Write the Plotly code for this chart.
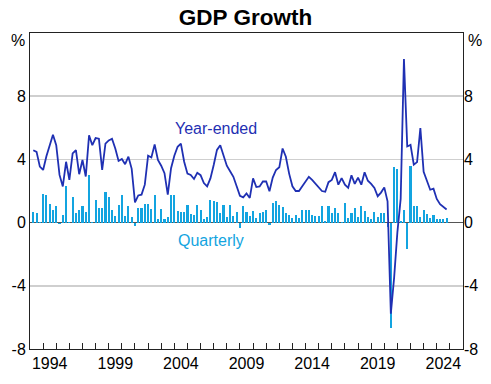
import plotly.graph_objects as go

# Quarterly data from 1993 Q1 to 2024 Q3
start_year = 1993
n_quarters = 127
quarters = [f"{start_year + i // 4}-Q{i % 4 + 1}" for i in range(n_quarters)]

year_ended = [
    4.58, 4.48, 3.54, 3.33, 4.2, 4.9, 5.56, 4.9, 3.02, 2.29,
    3.85, 2.71, 4.38, 4.58, 3.06, 3.96, 2.92, 5.52, 4.9, 5.35,
    5.31, 3.33, 5.0, 5.2, 5.31, 4.69, 3.9, 4.02, 3.7, 4.17,
    3.4, 1.28, 1.72, 1.77, 2.4, 4.23, 4.12, 4.94, 3.96, 3.6,
    3.13, 1.77, 3.44, 4.23, 4.8, 5.0, 3.85, 3.1, 3.02, 2.76,
    3.15, 3.0, 2.5, 2.29, 2.8, 3.65, 4.6, 4.9, 4.3, 3.6,
    3.25, 2.9, 2.3, 1.7, 1.6, 1.85, 1.56, 2.8, 2.25, 2.29,
    2.6, 2.6, 1.98, 2.85, 3.33, 3.5, 4.69, 4.17, 3.1, 2.3,
    2.0, 2.0, 2.3, 2.6, 2.9, 2.7, 2.45, 2.2, 2.0, 1.95,
    2.56, 2.7, 3.19, 2.4, 2.81, 2.4, 2.2, 3.0, 2.45, 2.85,
    2.4, 3.19, 2.65, 2.45, 2.2, 1.67, 1.9, 2.23, 1.35, -5.77,
    -3.5, -0.6, 1.5, 10.35, 4.82, 4.92, 3.67, 3.83, 5.98, 3.21,
    2.68, 2.08, 2.15, 1.5, 1.17, 1.0, 0.83,
]

quarterly = [
    0.67, 0.62, 0.05, 1.8, 1.73, 1.19, 0.8, 1.08, -0.08, 0.48,
    2.32, 0.05, 1.63, 0.61, 0.8, 1.04, 0.69, 3.02, 0.06, 1.4,
    0.9, 0.9, 1.92, 1.65, 0.81, 0.4, 1.12, 1.73, 0.43, 1.04,
    0.38, -0.21, 0.94, 0.94, 1.19, 1.19, 0.83, 1.73, 0.21, 0.83,
    0.21, 0.38, 1.73, 1.75, 0.75, 0.69, 0.69, 1.1, 0.52, 0.48,
    1.1, 0.77, 0.21, 0.35, 1.46, 1.35, 1.31, 0.62, 1.1, 0.35,
    1.1, 0.42, 0.69, -0.31, 1.04, 0.69, 0.42, 0.73, 0.31, 0.62,
    0.67, 0.79, -0.17, 1.21, 1.35, 1.1, 0.98, 0.62, 0.48, 0.31,
    0.48, 0.27, 0.79, 0.79, 0.79, 0.48, 0.42, 0.4, 1.04, 0.1,
    1.04, 0.63, 0.94, 0.63, 0.05, 1.21, 0.31, 0.63, 0.94, 0.38,
    1.04, 0.73, 0.38, 0.21, 0.69, 0.35, 0.63, 0.63, -0.3, -6.7,
    3.5, 3.4, 0.1, 0.8, -1.67, 3.6, 1.04, 1.04, 0.37, 0.8,
    0.52, 0.3, 0.5, 0.2, 0.2, 0.2, 0.3,
]

year_labels = ["1994", "1999", "2004", "2009", "2014", "2019", "2024"]
y_ticks = [-8, -4, 0, 4, 8]

# quarter-end position in decimal years
def q_to_x(q):
    y, k = q.split("-Q")
    return int(y) + int(k) / 4.0

x = [q_to_x(q) for q in quarters]

LINE = "#1f30b3"
BAR = "#13a4e0"
FONT = "Liberation Sans, Arial, sans-serif"

fig = go.Figure()
fig.add_trace(go.Bar(x=x, y=quarterly, width=0.16, marker=dict(color=BAR, line=dict(width=0)),
                     hoverinfo="skip", showlegend=False))
fig.add_trace(go.Scatter(x=x, y=year_ended, mode="lines", line=dict(color=LINE, width=1.8),
                         hoverinfo="skip", showlegend=False))
fig.add_trace(go.Scatter(x=[x[0]], y=[0], yaxis="y2", mode="markers", marker=dict(opacity=0),
                         hoverinfo="skip", showlegend=False))

fig.update_layout(
    width=491, height=384,
    margin=dict(l=29, r=28, t=33, b=30),
    paper_bgcolor="white", plot_bgcolor="white",
    font=dict(family=FONT, size=16, color="black"),
    title=dict(text="<b>GDP Growth</b>", x=0.5, xanchor="center", y=1 - 17 / 384, yanchor="middle",
               font=dict(family=FONT, size=22.5, color="black")),
    bargap=0,
    xaxis=dict(
        range=[1993, 2026], showgrid=False, zeroline=False,
        showline=True, linecolor="#222", linewidth=1, mirror=True,
        tickmode="array", tickvals=[int(t) + 0.5 for t in year_labels], ticktext=year_labels,
        ticks="", tickfont=dict(size=16),
        minor=dict(tickmode="array", tickvals=list(range(1994, 2026)), ticks="inside",
                   ticklen=6, tickcolor="#222", tickwidth=1, showgrid=False),
    ),
    yaxis=dict(
        range=[-8, 12], tickmode="array", tickvals=y_ticks, ticktext=[str(v) for v in y_ticks],
        ticks="", showgrid=True, gridcolor="#cfcfcf", gridwidth=1.5,
        zeroline=True, zerolinecolor="#555", zerolinewidth=1.5,
        showline=True, linecolor="#222", linewidth=1, mirror=True, tickfont=dict(size=16),
    ),
    yaxis2=dict(
        range=[-8, 12], overlaying="y", side="right", tickmode="array", tickvals=y_ticks,
        ticktext=[str(v) for v in y_ticks], ticks="", showgrid=False, zeroline=False,
        showline=False, tickfont=dict(size=16),
    ),
    annotations=[
        dict(text="%", xref="paper", yref="y", x=0, y=11.5, xanchor="right", yanchor="middle",
             xshift=-3, showarrow=False, font=dict(size=16)),
        dict(text="%", xref="paper", yref="y", x=1, y=11.5, xanchor="left", yanchor="middle",
             xshift=3, showarrow=False, font=dict(size=16)),
        dict(text="Year-ended", x=2007.14, y=5.94, xref="x", yref="y", showarrow=False,
             font=dict(size=16, color=LINE)),
        dict(text="Quarterly", x=2006.76, y=-1.125, xref="x", yref="y", showarrow=False,
             font=dict(size=16, color=BAR)),
    ],
)

fig.write_html("out.html", config={"displayModeBar": False, "staticPlot": True},
               post_script="document.body.style.margin='0';document.body.style.overflow='hidden';")
